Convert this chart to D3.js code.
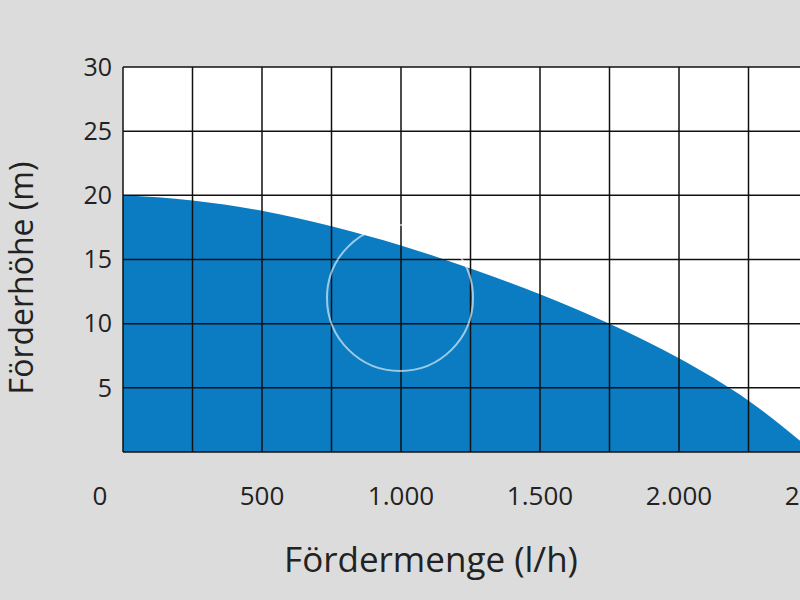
<!DOCTYPE html>
<html>
<head>
<meta charset="utf-8">
<script src="https://d3js.org/d3.v7.min.js"></script>
<style>
  body { margin: 0; background: #dcdcdc; }
  text { font-family: "Open Sans", sans-serif; fill: #222; }
</style>
</head>
<body>
<svg id="chart" width="800" height="600"></svg>
<script>
// pump curve: flow (l/h) vs head (m)
const flow = [0, 250, 500, 750, 1000, 1250, 1500, 1750, 2000, 2250, 2440];
const head = [20, 19.6, 18.8, 17.6, 16.1, 14.3, 12.3, 10.0, 7.3, 4.0, 0.8];
const xTicks = [0, 500, 1000, 1500, 2000, 2500];
const yTicks = [5, 10, 15, 20, 25, 30];

const svg = d3.select("#chart");
const x = d3.scaleLinear().domain([0, 2500]).range([123, 818]);
const y = d3.scaleLinear().domain([0, 30]).range([452, 67]);

svg.append("rect").attr("x", 123).attr("y", 67).attr("width", 700).attr("height", 385).attr("fill", "#fff");

const data = flow.map((f, i) => ({ f, h: head[i] }));
svg.append("path")
  .datum(data)
  .attr("fill", "#0b7cc2")
  .attr("d", d3.area().x(d => x(d.f)).y0(y(0)).y1(d => y(d.h)).curve(d3.curveMonotoneX));

const g = svg.append("g").attr("stroke", "#111").attr("stroke-width", 1.5);
d3.range(0, 2751, 250).forEach(v => {
  g.append("line").attr("x1", x(v)).attr("x2", x(v)).attr("y1", 67).attr("y2", 452);
});
d3.range(0, 31, 5).forEach(v => {
  g.append("line").attr("x1", 123).attr("x2", 800).attr("y1", y(v)).attr("y2", y(v));
});

// faint watermark
svg.append("circle").attr("cx", 400).attr("cy", 298).attr("r", 73)
  .attr("fill", "none").attr("stroke", "rgba(255,255,255,0.6)").attr("stroke-width", 2);

svg.selectAll(".yt").data(yTicks).join("text")
  .attr("x", 112).attr("y", d => y(d)).attr("dy", "0.35em")
  .attr("text-anchor", "end").attr("font-size", 25).text(d => d);

const fmt = d => d === 0 ? "0" : d3.format(",")(d).replace(",", ".");
svg.selectAll(".xt").data(xTicks).join("text")
  .attr("x", d => d === 0 ? 100 : x(d)).attr("y", 505)
  .attr("text-anchor", "middle").attr("font-size", 26).text(fmt);

svg.append("text").attr("x", 431).attr("y", 572).attr("text-anchor", "middle")
  .attr("font-size", 35).text("Fördermenge (l/h)");
svg.append("text").attr("transform", "translate(33,278) rotate(-90)").attr("text-anchor", "middle")
  .attr("font-size", 32).text("Förderhöhe (m)");
</script>
</body>
</html>
